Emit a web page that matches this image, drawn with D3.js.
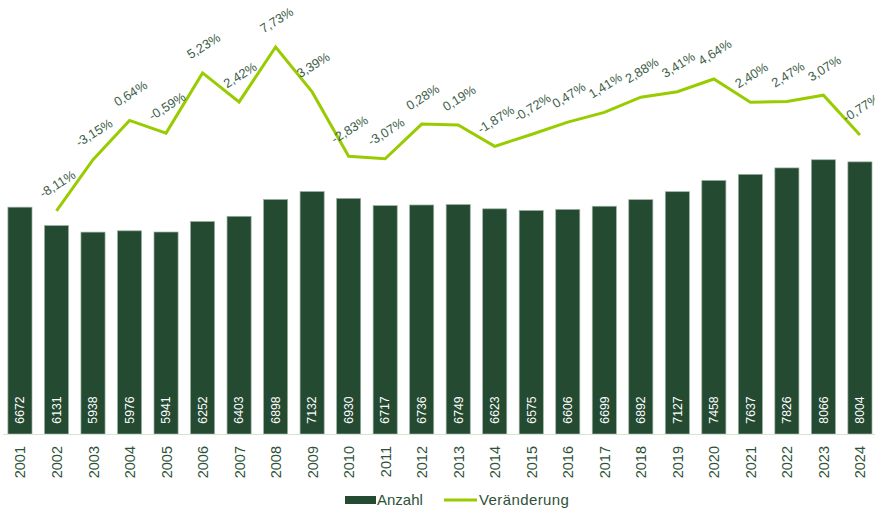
<!DOCTYPE html>
<html>
<head>
<meta charset="utf-8">
<script src="https://cdn.jsdelivr.net/npm/d3@7"></script>
<style>
  body { margin: 0; background: #fff; }
  svg { font-family: "Liberation Sans", Arial, sans-serif; }
</style>
</head>
<body>
<div id="app"></div>
<script>
// data
var years = ['2001','2002','2003','2004','2005','2006','2007','2008','2009','2010','2011','2012',
  '2013','2014','2015','2016','2017','2018','2019','2020','2021','2022','2023','2024'];
var anzahl = [6672, 6131, 5938, 5976, 5941, 6252, 6403, 6898, 7132, 6930, 6717, 6736,
  6749, 6623, 6575, 6606, 6699, 6892, 7127, 7458, 7637, 7826, 8066, 8004];
// Veränderung in %, ab 2002
var veraenderung = [-8.11, -3.15, 0.64, -0.59, 5.23, 2.42, 7.73, 3.39, -2.83, -3.07, 0.28,
  0.19, -1.87, -0.72, 0.47, 1.41, 2.88, 3.41, 4.64, 2.40, 2.47, 3.07, -0.77];
var legendLabels = ['Anzahl', 'Veränderung'];

var width = 875, height = 511;
var barColor = '#244a31', lineColor = '#99cc00', textColor = '#2e5238';

var de = d3.formatLocale({decimal: ',', thousands: '.', grouping: [3], currency: ['', ' €'], minus: '-'});
var fmtPct = function(v) { return de.format('.2f')(v) + '%'; };

var svg = d3.select('#app').append('svg')
  .attr('width', width)
  .attr('height', height);

// scales
var x = d3.scaleBand()
  .domain(years)
  .range([1.7, 878.2])
  .paddingInner(0.34)
  .paddingOuter(0.17);

var y = d3.scaleLinear()
  .domain([0, 12000])
  .range([434, 26]);

var y2 = d3.scaleLinear()
  .domain([-10, 10])
  .range([230.5, 23.5]);

// bars
svg.append('g').selectAll('rect')
  .data(anzahl)
  .join('rect')
    .attr('x', (d, i) => x(years[i]))
    .attr('y', d => y(d))
    .attr('width', x.bandwidth())
    .attr('height', d => y(0) - y(d))
    .attr('fill', barColor)
    .attr('stroke', '#9db3a3')
    .attr('stroke-width', 0.7);

// bar values
svg.append('g').selectAll('text')
  .data(anzahl)
  .join('text')
    .attr('transform', (d, i) => 'translate(' + (x(years[i]) + x.bandwidth() / 2 + 4.3) + ',410) rotate(-90)')
    .attr('text-anchor', 'middle')
    .attr('fill', '#ffffff')
    .style('font-size', '12.3px')
    .text(d => d);

// baseline
svg.append('line')
  .attr('x1', 3).attr('x2', 875)
  .attr('y1', y(0) + 0.5).attr('y2', y(0) + 0.5)
  .attr('stroke', '#d6e3d9')
  .attr('stroke-width', 1.2);

// x axis labels
svg.append('g').selectAll('text')
  .data(years)
  .join('text')
    .attr('transform', d => 'translate(' + (x(d) + x.bandwidth() / 2 + 5.5) + ',446) rotate(-90)')
    .attr('text-anchor', 'end')
    .attr('fill', textColor)
    .style('font-size', '14.5px')
    .text(d => d);

// line
var lineYears = years.slice(1);
var line = d3.line()
  .x((d, i) => x(lineYears[i]) + x.bandwidth() / 2)
  .y(d => y2(d));

svg.append('path')
  .datum(veraenderung)
  .attr('d', line)
  .attr('fill', 'none')
  .attr('stroke', lineColor)
  .attr('stroke-width', 3)
  .attr('stroke-linejoin', 'miter');

// line labels
svg.append('g').selectAll('text')
  .data(veraenderung)
  .join('text')
    .attr('transform', (d, i) => 'translate(' + (x(lineYears[i]) + x.bandwidth() / 2 + 1) + ',' + (y2(d) - 27) + ') rotate(-32)')
    .attr('text-anchor', 'middle')
    .attr('dominant-baseline', 'central')
    .attr('fill', '#3d5e48')
    .style('font-size', '12.8px')
    .text(d => fmtPct(d));

// legend
var legend = svg.append('g');
legend.append('rect')
  .attr('x', 345).attr('y', 496)
  .attr('width', 31).attr('height', 8)
  .attr('fill', barColor);
legend.append('text')
  .attr('x', 377).attr('y', 505)
  .attr('fill', textColor)
  .style('font-size', '15px')
  .text(legendLabels[0]);
legend.append('line')
  .attr('x1', 444).attr('x2', 477)
  .attr('y1', 500).attr('y2', 500)
  .attr('stroke', lineColor)
  .attr('stroke-width', 3);
legend.append('text')
  .attr('x', 479).attr('y', 505)
  .attr('fill', textColor)
  .style('font-size', '15px')
  .style('letter-spacing', '0.4px')
  .text(legendLabels[1]);
</script>
</body>
</html>
